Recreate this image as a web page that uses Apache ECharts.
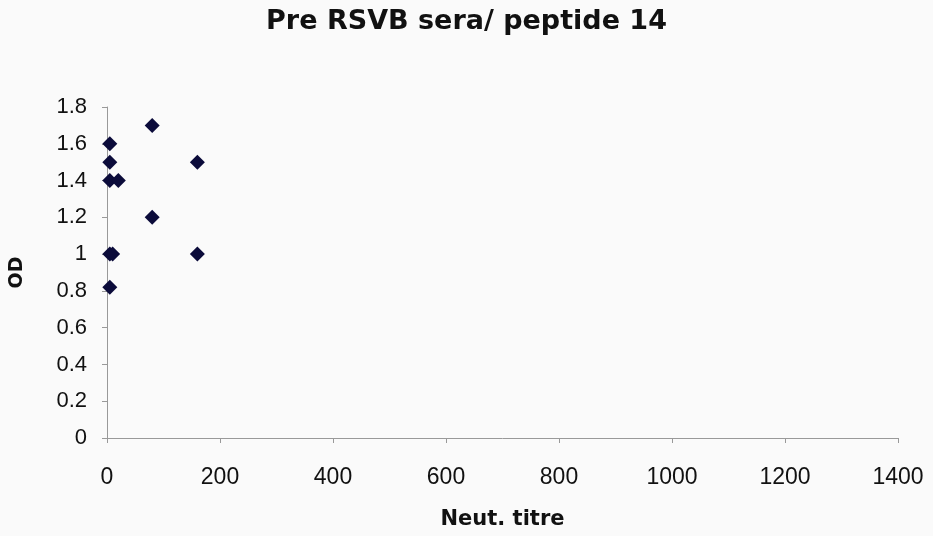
<!DOCTYPE html>
<html>
<head>
<meta charset="utf-8">
<script src="https://cdn.jsdelivr.net/npm/echarts@6/dist/echarts.min.js"></script>
<style>
  html, body { margin: 0; padding: 0; background: #fafafa; }
  #chart { width: 933px; height: 536px; }
</style>
</head>
<body>
<div id="chart"></div>
<script>
// Neutralising titre vs. OD for pre-infection RSV B sera on peptide 14
const titre = [5, 5, 5, 20, 80, 160, 80, 5, 10, 160, 5];
const od    = [1.6, 1.5, 1.4, 1.4, 1.7, 1.5, 1.2, 1.0, 1.0, 1.0, 0.82];
const xTicks = [0, 200, 400, 600, 800, 1000, 1200, 1400];
const yTicks = [0, 0.2, 0.4, 0.6, 0.8, 1, 1.2, 1.4, 1.6, 1.8];

const boldFont = '"DejaVu Sans", "Liberation Sans", Arial, sans-serif';
const tickFont = '"Liberation Sans", Arial, Helvetica, sans-serif';
const points = titre.map((t, i) => [t, od[i]]);

const chart = echarts.init(document.getElementById('chart'));
chart.setOption({
  backgroundColor: '#fafafa',
  animation: false,
  title: {
    text: 'Pre RSVB sera/ peptide 14',
    left: 'center',
    top: 3,
    textStyle: { fontFamily: boldFont, fontSize: 27, fontWeight: 'bold', color: '#111' }
  },
  grid: { left: 106, right: 35, top: 107, bottom: 98 },
  xAxis: {
    type: 'value',
    min: xTicks[0],
    max: xTicks[xTicks.length - 1],
    interval: xTicks[1] - xTicks[0],
    name: 'Neut. titre',
    nameLocation: 'middle',
    nameGap: 71,
    nameTextStyle: { fontFamily: boldFont, fontSize: 21, fontWeight: 'bold', color: '#111' },
    axisLine: { onZero: false, lineStyle: { color: '#999', width: 1 } },
    axisTick: { show: true, length: 5, lineStyle: { color: '#999' } },
    axisLabel: {
      margin: 28, fontFamily: tickFont, fontSize: 23, color: '#111',
      formatter: v => String(v)
    },
    splitLine: { show: false }
  },
  yAxis: {
    type: 'value',
    min: yTicks[0],
    max: yTicks[yTicks.length - 1],
    interval: 0.2,
    name: 'OD',
    nameLocation: 'middle',
    nameGap: 80,
    nameRotate: 90,
    nameTextStyle: { fontFamily: boldFont, fontSize: 19, fontWeight: 'bold', color: '#111' },
    axisLine: { show: true, lineStyle: { color: '#999', width: 1 } },
    axisTick: { show: true, length: 5, lineStyle: { color: '#999' } },
    axisLabel: {
      margin: 20, fontFamily: tickFont, fontSize: 22, color: '#111',
      formatter: v => String(Math.round(v * 10) / 10)
    },
    splitLine: { show: false }
  },
  series: [{
    type: 'scatter',
    data: points,
    symbol: 'diamond',
    symbolSize: 15,
    itemStyle: { color: '#0b0b3a', opacity: 1 }
  }]
});
</script>
</body>
</html>
